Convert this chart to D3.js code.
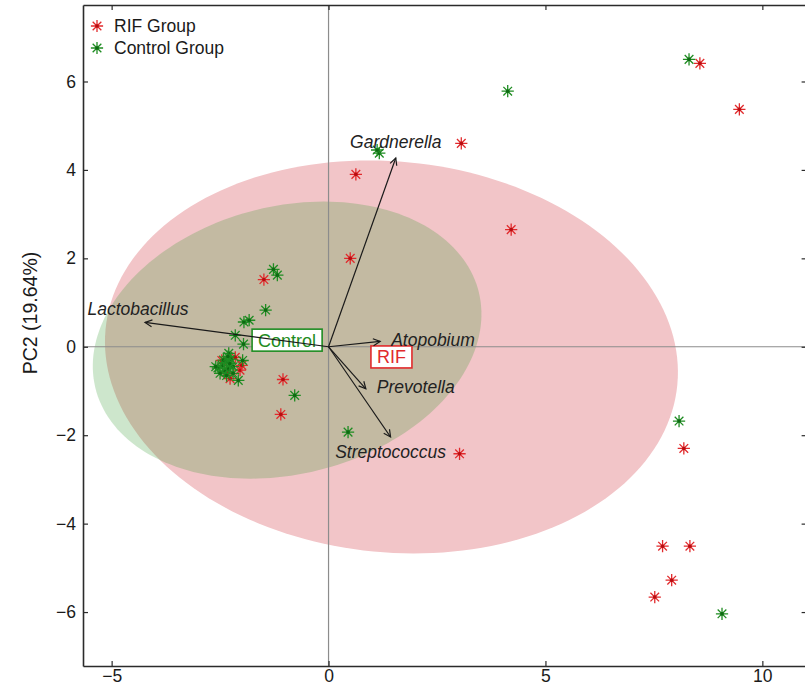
<!DOCTYPE html>
<html>
<head>
<meta charset="utf-8">
<script src="https://cdn.jsdelivr.net/npm/d3@7"></script>
<style>
  body { margin: 0; background: #fff; }
  svg { display: block; }
  text { font-family: "Liberation Sans", Arial, Helvetica, sans-serif; }
</style>
</head>
<body>
<svg id="chart" width="805" height="691"></svg>
<script>
// ---- sample scores on PC1 / PC2 ----
const rifX = [8.56, 9.47, 3.06, 0.63, 4.21, 0.50, -1.49, -1.05, -1.10, 3.02, 8.19, 7.70, 8.33, 7.91, 7.52,
              -2.46, -2.04, -2.00, -2.27, -2.36, -2.15];
const rifY = [6.41, 5.37, 4.60, 3.90, 2.65, 2.00, 1.52, -0.74, -1.53, -2.42, -2.30, -4.51, -4.51, -5.28, -5.66,
              -0.31, -0.53, -0.42, -0.72, -0.58, -0.24];

const ctrlX = [8.31, 4.13, 1.17, 1.12, -1.27, -1.18, -1.45, -1.95, -1.83, -2.15, -1.96, -0.78, 0.45, 8.08, 9.07,
               -1.98, -2.08,
               -2.30, -2.25, -2.35, -2.45, -2.55, -2.40, -2.30, -2.20, -2.50, -2.35, -2.28, -2.42, -2.20, -2.60, -2.32];
const ctrlY = [6.50, 5.78, 4.38, 4.45, 1.75, 1.62, 0.83, 0.56, 0.60, 0.26, 0.06, -1.10, -1.93, -1.68, -6.04,
               -0.31, -0.76,
               -0.15, -0.28, -0.35, -0.42, -0.48, -0.55, -0.50, -0.45, -0.60, -0.65, -0.38, -0.30, -0.60, -0.45, -0.22];

// ---- taxon loadings (biplot arrows) ----
const taxa     = ["Lactobacillus", "Gardnerella", "Atopobium", "Prevotella", "Streptococcus"];
const loadingX = [-4.23, 1.55, 1.19, 0.86, 1.43];
const loadingY = [0.55, 4.27, 0.12, -0.95, -2.04];

// ---- group centroids and confidence ellipses ----
const groups       = ["RIF", "Control"];
const groupLegend  = ["RIF Group", "Control Group"];
const centroidX    = [1.45, -0.955];
const centroidY    = [-0.23, 0.15];
const ellipseMajor = [6.62, 4.55];
const ellipseMinor = [4.42, 3.03];
const ellipseAngle = [-5.4, 13.6];   // degrees

// ---- axes ----
const xTicks = [-5, 0, 5, 10];
const xTickLabels = ["\u22125", "0", "5", "10"];
const yTicks = [-6, -4, -2, 0, 2, 4, 6];
const yTickLabels = ["\u22126", "\u22124", "\u22122", "0", "2", "4", "6"];
const yTitle = "PC2 (19.64%)";

// ---------------------------------------------------------------
const svg = d3.select("#chart");
const plotL = 83, plotR = 806.6, plotT = 5, plotB = 666;
const fontSize = 17.5;

const x = d3.scaleLinear().domain([-5.66, 11.02]).range([plotL, plotR]);
const y = d3.scaleLinear().domain([-7.22, 7.73]).range([plotB, plotT]);

const groupColor = { RIF: "#e12a2c", Control: "#1f8c22" };
const groupDark  = { RIF: "#b80d10", Control: "#0e6a12" };

// confidence ellipses
const ellipseFill = [
  { fill: "#f2c5c8", opacity: 1 },
  { fill: "rgb(47,151,43)", opacity: 0.24 }
];
const ellLine = d3.line().x(d => x(d[0])).y(d => y(d[1])).curve(d3.curveLinearClosed);
groups.forEach((g, i) => {
  const th = ellipseAngle[i] * Math.PI / 180;
  const pts = d3.range(0, 360, 2).map(deg => {
    const t = deg * Math.PI / 180;
    const a = ellipseMajor[i] * Math.cos(t), b = ellipseMinor[i] * Math.sin(t);
    return [centroidX[i] + a * Math.cos(th) - b * Math.sin(th),
            centroidY[i] + a * Math.sin(th) + b * Math.cos(th)];
  });
  svg.append("path")
    .attr("d", ellLine(pts))
    .attr("fill", ellipseFill[i].fill)
    .attr("fill-opacity", ellipseFill[i].opacity)
    .attr("stroke", "none");
});

// zero reference lines
svg.append("line")
  .attr("x1", x(0)).attr("x2", x(0)).attr("y1", plotT).attr("y2", plotB)
  .attr("stroke", "#8c8c8c").attr("stroke-width", 1.2);
svg.append("line")
  .attr("x1", plotL).attr("x2", plotR).attr("y1", y(0)).attr("y2", y(0))
  .attr("stroke", "#8c8c8c").attr("stroke-width", 1.2);

// box frame with inward ticks
const frame = svg.append("g").attr("class", "frame");
frame.append("g").attr("transform", `translate(0,${plotB})`)
  .call(d3.axisBottom(x).tickValues(xTicks).tickFormat((d, i) => xTickLabels[i])
        .tickSize(-5).tickSizeOuter(0).tickPadding(4));
frame.append("g").attr("transform", `translate(0,${plotT})`)
  .call(d3.axisTop(x).tickValues(xTicks).tickFormat("").tickSize(-5).tickSizeOuter(0));
frame.append("g").attr("transform", `translate(${plotL},0)`)
  .call(d3.axisLeft(y).tickValues(yTicks).tickFormat((d, i) => yTickLabels[i])
        .tickSize(-5).tickSizeOuter(0).tickPadding(7));
frame.append("g").attr("transform", `translate(${plotR},0)`)
  .call(d3.axisRight(y).tickValues(yTicks).tickFormat("").tickSize(-5).tickSizeOuter(0));
frame.selectAll(".domain").attr("stroke", "#2b2b2b").attr("stroke-width", 1.6);
frame.selectAll(".tick line").attr("stroke", "#2b2b2b").attr("stroke-width", 1.2);
frame.selectAll(".tick text").attr("font-size", fontSize).attr("fill", "#1a1a1a")
  .attr("font-family", "\"Liberation Sans\", Arial, sans-serif");

// y-axis title
svg.append("text")
  .attr("transform", `translate(37,${313}) rotate(-90)`)
  .attr("text-anchor", "middle")
  .attr("font-size", 19.5)
  .attr("fill", "#1a1a1a")
  .text(yTitle);

// asterisk marker (+ and x overlaid)
const asterisk = {
  draw(ctx, size) {
    const r = Math.sqrt(size) / 2;
    const d = r * Math.SQRT1_2;
    ctx.moveTo(-r, 0); ctx.lineTo(r, 0);
    ctx.moveTo(0, -r); ctx.lineTo(0, r);
    ctx.moveTo(-d, -d); ctx.lineTo(d, d);
    ctx.moveTo(-d, d); ctx.lineTo(d, -d);
  }
};
const star = d3.symbol().type(asterisk).size(150);

function drawPoints(xs, ys, g) {
  const sel = svg.append("g").selectAll("g")
    .data(xs.map((v, i) => [v, ys[i]]))
    .join("g")
    .attr("transform", d => `translate(${x(d[0])},${y(d[1])})`);
  sel.append("path").attr("d", star)
    .attr("fill", "none").attr("stroke", groupColor[g]).attr("stroke-width", 1.3);
  sel.append("circle").attr("r", 1.8).attr("fill", groupDark[g]);
}
drawPoints(rifX, rifY, "RIF");
drawPoints(ctrlX, ctrlY, "Control");

// centroid labels
const boxPad = { w: 6, h: 11 };
groups.forEach((g, i) => {
  const gx = x(centroidX[i]), gy = y(centroidY[i]);
  const lab = svg.append("g");
  const txt = lab.append("text")
    .attr("x", gx).attr("y", gy).attr("dy", "0.36em")
    .attr("text-anchor", "middle")
    .attr("font-size", 18)
    .attr("fill", groupColor[g])
    .text(g);
  const w = txt.node().getComputedTextLength();
  lab.insert("rect", "text")
    .attr("x", gx - w / 2 - boxPad.w).attr("y", gy - boxPad.h)
    .attr("width", w + 2 * boxPad.w).attr("height", 2 * boxPad.h)
    .attr("fill", "#fff").attr("stroke", groupColor[g]).attr("stroke-width", 1.6);
});

// loading arrows
svg.append("defs").append("marker")
  .attr("id", "arrowHead")
  .attr("viewBox", "-8 -5 10 10")
  .attr("refX", 0).attr("refY", 0)
  .attr("markerWidth", 10).attr("markerHeight", 10)
  .attr("markerUnits", "userSpaceOnUse")
  .attr("orient", "auto")
  .append("path")
  .attr("d", "M-7,-3.5L0,0L-7,3.5")
  .attr("fill", "none").attr("stroke", "#1a1a1a").attr("stroke-width", 1.2);

const arrows = svg.append("g");
taxa.forEach((t, i) => {
  arrows.append("line")
    .attr("x1", x(0)).attr("y1", y(0))
    .attr("x2", x(loadingX[i])).attr("y2", y(loadingY[i]))
    .attr("stroke", "#1a1a1a").attr("stroke-width", 1.2)
    .attr("marker-end", "url(#arrowHead)");
});

// taxon names beside the arrow tips
const nameOffset = {
  Lactobacillus: { dx: -7, dy: -7, anchor: "middle" },
  Gardnerella:   { dx: 0, dy: -10, anchor: "middle" },
  Atopobium:     { dx: 11, dy: 5, anchor: "start" },
  Prevotella:    { dx: 11, dy: 4, anchor: "start" },
  Streptococcus: { dx: 0, dy: 21, anchor: "middle" }
};
taxa.forEach((t, i) => {
  const o = nameOffset[t];
  svg.append("text")
    .attr("x", x(loadingX[i]) + o.dx).attr("y", y(loadingY[i]) + o.dy)
    .attr("text-anchor", o.anchor)
    .attr("font-size", fontSize).attr("font-style", "italic")
    .attr("fill", "#222")
    .text(t);
});

// legend
const legend = svg.append("g").attr("transform", "translate(97,26)");
groups.forEach((g, i) => {
  const row = legend.append("g").attr("transform", `translate(0,${i * 22})`);
  row.append("path").attr("d", star)
    .attr("fill", "none").attr("stroke", groupColor[g]).attr("stroke-width", 1.3);
  row.append("circle").attr("r", 1.8).attr("fill", groupDark[g]);
  row.append("text").attr("x", 17).attr("y", 6)
    .attr("font-size", fontSize).attr("fill", "#1a1a1a")
    .text(groupLegend[i]);
});
</script>
</body>
</html>
